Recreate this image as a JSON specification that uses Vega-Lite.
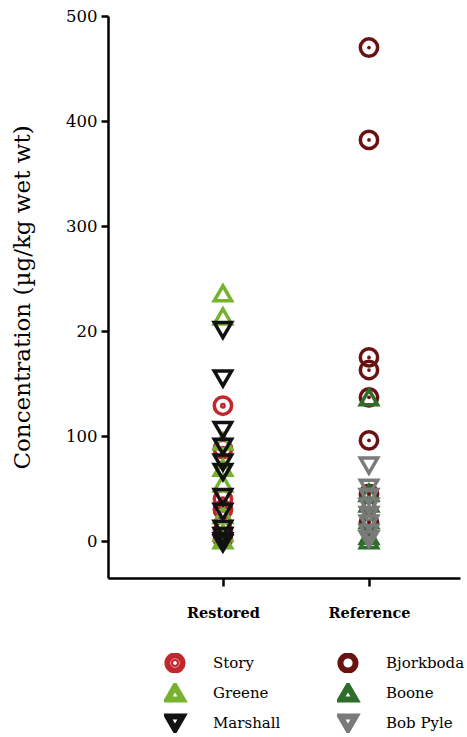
{
  "$schema": "https://vega.github.io/schema/vega-lite/v6.json",
  "autosize": "none",
  "width": 352,
  "height": 562,
  "padding": {"left": 108, "top": 16, "right": 7, "bottom": 159},
  "config": {
    "view": {"stroke": null},
    "font": "DejaVu Serif"
  },
  "data": {
    "values": [
      {"group": "Restored", "site": "Story", "value": 129},
      {"group": "Restored", "site": "Story", "value": 88},
      {"group": "Restored", "site": "Story", "value": 40},
      {"group": "Restored", "site": "Story", "value": 30},
      {"group": "Restored", "site": "Story", "value": 10},
      {"group": "Restored", "site": "Story", "value": 2},
      {"group": "Restored", "site": "Greene", "value": 236},
      {"group": "Restored", "site": "Greene", "value": 214},
      {"group": "Restored", "site": "Greene", "value": 95},
      {"group": "Restored", "site": "Greene", "value": 70},
      {"group": "Restored", "site": "Greene", "value": 55},
      {"group": "Restored", "site": "Greene", "value": 25},
      {"group": "Restored", "site": "Greene", "value": 8},
      {"group": "Restored", "site": "Greene", "value": 1},
      {"group": "Restored", "site": "Marshall", "value": 201},
      {"group": "Restored", "site": "Marshall", "value": 155},
      {"group": "Restored", "site": "Marshall", "value": 106},
      {"group": "Restored", "site": "Marshall", "value": 90},
      {"group": "Restored", "site": "Marshall", "value": 75},
      {"group": "Restored", "site": "Marshall", "value": 66},
      {"group": "Restored", "site": "Marshall", "value": 42},
      {"group": "Restored", "site": "Marshall", "value": 28},
      {"group": "Restored", "site": "Marshall", "value": 12},
      {"group": "Restored", "site": "Marshall", "value": 5},
      {"group": "Restored", "site": "Marshall", "value": 0},
      {"group": "Restored", "site": "Marshall", "value": -2},
      {"group": "Reference", "site": "Bjorkboda", "value": 470},
      {"group": "Reference", "site": "Bjorkboda", "value": 382},
      {"group": "Reference", "site": "Bjorkboda", "value": 175},
      {"group": "Reference", "site": "Bjorkboda", "value": 163},
      {"group": "Reference", "site": "Bjorkboda", "value": 137},
      {"group": "Reference", "site": "Bjorkboda", "value": 96},
      {"group": "Reference", "site": "Bjorkboda", "value": 45},
      {"group": "Reference", "site": "Bjorkboda", "value": 18},
      {"group": "Reference", "site": "Boone", "value": 137},
      {"group": "Reference", "site": "Boone", "value": 46},
      {"group": "Reference", "site": "Boone", "value": 36},
      {"group": "Reference", "site": "Boone", "value": 20},
      {"group": "Reference", "site": "Boone", "value": 5},
      {"group": "Reference", "site": "Boone", "value": 1},
      {"group": "Reference", "site": "Bob Pyle", "value": 72},
      {"group": "Reference", "site": "Bob Pyle", "value": 51},
      {"group": "Reference", "site": "Bob Pyle", "value": 42},
      {"group": "Reference", "site": "Bob Pyle", "value": 33},
      {"group": "Reference", "site": "Bob Pyle", "value": 25},
      {"group": "Reference", "site": "Bob Pyle", "value": 17},
      {"group": "Reference", "site": "Bob Pyle", "value": 8},
      {"group": "Reference", "site": "Bob Pyle", "value": 2}
    ]
  },
  "encoding": {
    "x": {
      "field": "group",
      "type": "nominal",
      "sort": ["Restored", "Reference"],
      "scale": {"type": "point", "padding": 0.705, "align": 0.558},
      "axis": {
        "title": null,
        "labelAngle": 0,
        "labelFontSize": 14.5,
        "labelFontWeight": "bold",
        "labelColor": "black",
        "labelPadding": 20,
        "tickSize": 8,
        "tickWidth": 2.5,
        "tickColor": "black",
        "domainColor": "black",
        "domainWidth": 2.5,
        "grid": false
      }
    },
    "y": {
      "field": "value",
      "type": "quantitative",
      "scale": {"domain": [-35, 500], "nice": false, "zero": false},
      "axis": {
        "title": "Concentration (µg/kg wet wt)",
        "titleFontSize": 23,
        "titleFontWeight": "normal",
        "titleColor": "black",
        "titlePadding": 31,
        "values": [0, 100, 200, 300, 400, 500],
        "labelExpr": "datum.value == 200 ? '20' : datum.label",
        "labelFontSize": 16.5,
        "labelColor": "black",
        "labelPadding": 4,
        "tickSize": 7,
        "tickWidth": 2.5,
        "tickColor": "black",
        "domainColor": "black",
        "domainWidth": 2.5,
        "grid": false
      }
    }
  },
  "layer": [
    {
      "mark": {"type": "point", "filled": false, "strokeWidth": 3.5, "opacity": 1},
      "encoding": {
        "color": {
          "field": "site",
          "type": "nominal",
          "scale": {
            "domain": ["Story", "Greene", "Marshall", "Bjorkboda", "Boone", "Bob Pyle"],
            "range": ["#c1272d", "#76b12f", "#111111", "#6a1212", "#2f6d2a", "#7a7a7a"]
          },
          "legend": {
            "title": null,
            "orient": "none",
            "legendX": 56,
            "legendY": 637,
            "columns": 2,
            "columnPadding": 56,
            "rowPadding": 10,
            "clipHeight": 20,
            "labelFontSize": 15,
            "labelColor": "black",
            "labelOffset": 27,
            "symbolSize": 230,
            "symbolStrokeWidth": 6
          }
        },
        "shape": {
          "field": "site",
          "type": "nominal",
          "scale": {
            "domain": ["Story", "Greene", "Marshall", "Bjorkboda", "Boone", "Bob Pyle"],
            "range": [
              "M1,0A1,1,0,1,1,-1,0A1,1,0,1,1,1,0Z M0.14,0A0.14,0.14,0,1,1,-0.14,0A0.14,0.14,0,1,1,0.14,0Z",
              "triangle-up",
              "triangle-down",
              "circle",
              "triangle-up",
              "triangle-down"
            ]
          }
        },
        "size": {"value": 300}
      }
    },
    {
      "transform": [{"filter": "datum.site == 'Bjorkboda'"}],
      "mark": {"type": "point", "filled": true, "size": 14, "color": "#6a1212", "opacity": 1},
      "encoding": {}
    }
  ]
}
